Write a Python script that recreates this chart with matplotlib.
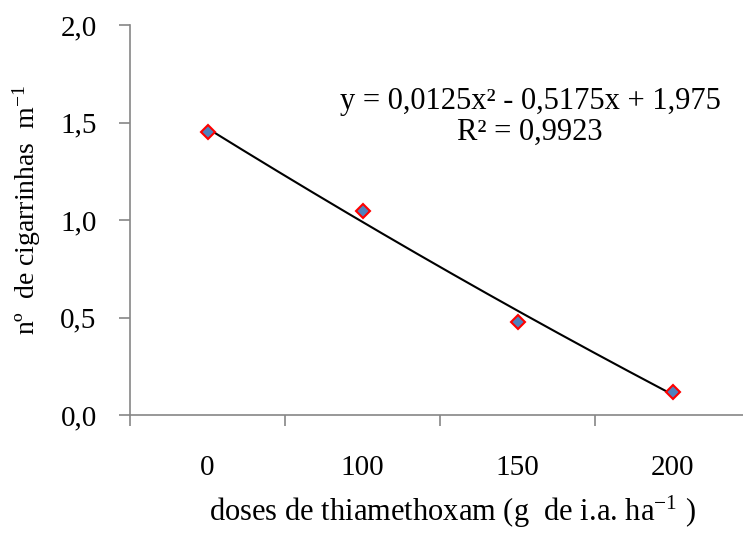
import numpy as np
import matplotlib
matplotlib.use("Agg")
import matplotlib.pyplot as plt

plt.rcParams['font.family'] = ['Liberation Serif', 'DejaVu Serif']
plt.rcParams['mathtext.fontset'] = 'custom'
plt.rcParams['mathtext.rm'] = 'Liberation Serif'
plt.rcParams['mathtext.it'] = 'Liberation Serif:italic'

# Data
doses = ['0', '100', '150', '200']
cigarrinhas = [1.45, 1.045, 0.475, 0.12]
# trendline coefficients (x = category index 1..4)
coef = [0.0125, -0.5175, 1.975]
eq_text = 'y = 0,0125x² - 0,5175x + 1,975\nR² = 0,9923'

grey = '#868686'

fig = plt.figure(figsize=(7.43, 5.38), dpi=100)
ax = fig.add_axes([130/743, 1 - 415/538, 620/743, 390/538])

pos = np.arange(1, len(doses) + 1)
xt = np.linspace(1, len(doses), 200)
ax.plot(xt, np.polyval(coef, xt), color='black', lw=1.5, zorder=2)
ax.plot(pos, cigarrinhas, linestyle='none', marker='D', markersize=7,
        markerfacecolor='#4F81BD', markeredgecolor='red', markeredgewidth=1.5, zorder=3)

ax.set_xlim(0.5, len(doses) + 0.5)
ax.set_ylim(0, 2.0)
ax.set_yticks([0, 0.5, 1.0, 1.5, 2.0])
ax.set_yticklabels(['0,0', '0,5', '1,0', '1,5', '2,0'], fontsize=21)
ax.set_xticks(pos)
ax.set_xticklabels(doses, fontsize=21)
ax.set_xticks(np.arange(0.5, len(doses) + 0.5, 1.0), minor=True)
ax.tick_params(axis='x', which='major', length=0, pad=29)
ax.tick_params(axis='x', which='minor', length=8, color=grey, width=1.2, direction='out')
ax.tick_params(axis='y', length=8, color=grey, width=1.2, direction='out', pad=16)

for s in ['top', 'right']:
    ax.spines[s].set_visible(False)
for s in ['left', 'bottom']:
    ax.spines[s].set_color(grey)
    ax.spines[s].set_linewidth(1.2)

fig.text(27/743, 1 - 210/538, 'nº  de cigarrinhas  m$^{-1}$', rotation=90,
         ha='center', va='center', fontsize=20)
fig.text(452/743, 1 - 512/538, 'doses de thiamethoxam (g  de i.a. ha$^{-1}$ )',
         ha='center', va='center', fontsize=22)
fig.text(530/743, 1 - 117/538, eq_text, ha='center', va='center', fontsize=22, linespacing=1.05)

fig.savefig('out.png', dpi=100)
